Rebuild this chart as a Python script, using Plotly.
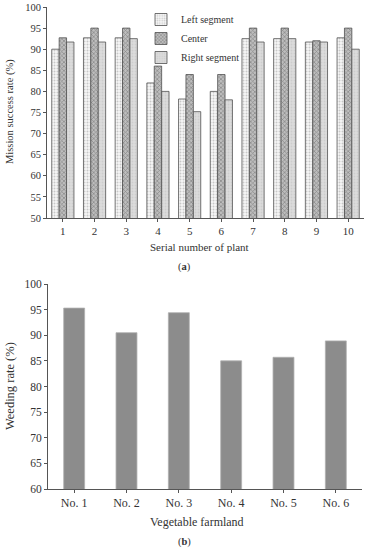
import plotly.graph_objects as go

# ---- data (a) ----
plants = ["1", "2", "3", "4", "5", "6", "7", "8", "9", "10"]
left_seg = [90.0, 92.7, 92.7, 82.0, 78.2, 80.0, 92.5, 92.5, 91.7, 92.7]
center = [92.7, 95.0, 95.0, 86.0, 84.0, 84.0, 95.0, 95.0, 92.0, 95.0]
right_seg = [91.7, 91.7, 92.5, 80.0, 75.2, 78.0, 91.7, 92.5, 91.7, 90.0]
y_ticks_a = [50, 55, 60, 65, 70, 75, 80, 85, 90, 95, 100]

# ---- data (b) ----
farmland = ["No. 1", "No. 2", "No. 3", "No. 4", "No. 5", "No. 6"]
weeding = [95.3, 90.5, 94.4, 85.0, 85.7, 88.9]
y_ticks_b = [60, 65, 70, 75, 80, 85, 90, 95, 100]

FONT = "Liberation Serif"
W, H = 368, 550

def px(y):
    return 1 - y / H

fig = go.Figure()

outline = dict(color="#505050", width=0.8)
fig.add_trace(go.Bar(
    x=plants, y=left_seg, name="Left segment", xaxis="x", yaxis="y",
    marker=dict(color="#f4f4f4", line=outline,
                pattern=dict(shape=".", fgcolor="#9a9a9a", bgcolor="#f6f6f6", size=3, solidity=0.35)),
))
fig.add_trace(go.Bar(
    x=plants, y=center, name="Center", xaxis="x", yaxis="y",
    marker=dict(color="#a8a8a8", line=outline,
                pattern=dict(shape="x", fgcolor="#505050", bgcolor="#bdbdbd", size=3, solidity=0.4)),
))
fig.add_trace(go.Bar(
    x=plants, y=right_seg, name="Right segment", xaxis="x", yaxis="y",
    marker=dict(color="#d4d4d4", line=outline,
                pattern=dict(shape=".", fgcolor="#bdbdbd", bgcolor="#dcdcdc", size=3, solidity=0.3)),
))
fig.add_trace(go.Bar(
    x=farmland, y=weeding, name="Weeding", xaxis="x2", yaxis="y2", showlegend=False,
    marker=dict(color="#8c8c8c", line=dict(color="#b0b0b0", width=0.8)),
    width=0.4,
))

axis_common = dict(showline=True, linecolor="#555555", linewidth=1, showgrid=False,
                   zeroline=False, ticks="outside", ticklen=3, tickcolor="#555555",
                   automargin=False,
                   tickfont=dict(family=FONT, size=10, color="#333333"))

def ann(text, x, y, size, angle=0):
    return dict(text=text, x=x / W, y=px(y), xref="paper", yref="paper",
                xanchor="center", yanchor="middle", textangle=angle, showarrow=False,
                font=dict(family=FONT, size=size, color="#333333"))

fig.update_layout(
    width=W, height=H,
    margin=dict(l=0, r=0, t=0, b=0),
    paper_bgcolor="white", plot_bgcolor="white",
    barmode="group", bargap=0.3, bargroupgap=0.0,
    font=dict(family=FONT, color="#333333"),
    xaxis=dict(domain=[47 / W, 364 / W], anchor="y", **axis_common),
    yaxis=dict(domain=[px(218), px(7)], anchor="x", range=[50, 100],
               tickvals=y_ticks_a, **axis_common),
    xaxis2=dict(domain=[48 / W, 362 / W], anchor="y2", **axis_common),
    yaxis2=dict(domain=[px(489), px(284)], anchor="x2", range=[60, 100],
                tickvals=y_ticks_b, **axis_common),
    legend=dict(x=141 / W, y=px(5), xanchor="left", yanchor="top",
                bgcolor="rgba(255,255,255,0)", font=dict(family=FONT, size=10, color="#333333"),
                itemwidth=30, tracegroupgap=0),
    annotations=[
        ann("Mission success rate (%)", 10, 112, 10.5, -90),
        ann("Serial number of plant", 199, 247, 11),
        ann("(<b>a</b>)", 184, 267, 10.5),
        ann("Weeding rate (%)", 10, 386, 12.5, -90),
        ann("Vegetable farmland", 197, 522, 12),
        ann("(<b>b</b>)", 184, 542, 10.5),
    ],
)
fig.update_xaxes(tickfont=dict(size=11))
fig.update_yaxes(tickfont=dict(size=10.5))
fig.layout.xaxis2.tickfont.size = 12
fig.layout.yaxis2.tickfont.size = 11.5

fig.write_html("out.html", config={"displayModeBar": False},
               post_script="document.body.style.margin='0';document.body.style.padding='0';document.body.style.overflow='hidden';")
